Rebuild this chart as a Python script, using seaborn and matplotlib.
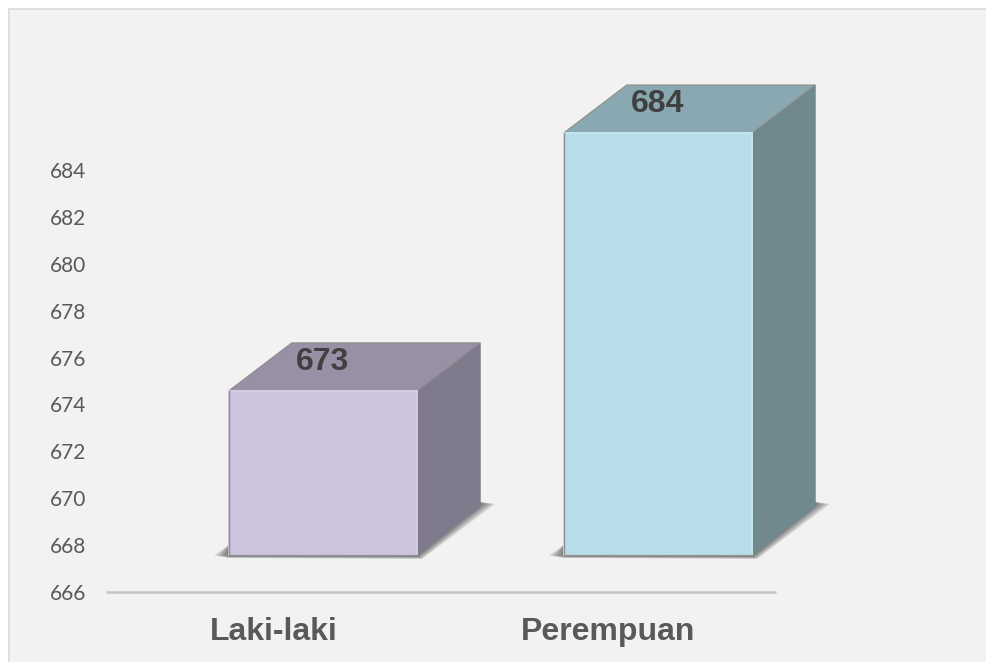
import matplotlib
matplotlib.use("Agg")
import matplotlib.pyplot as plt
import seaborn as sns
import pandas as pd
from matplotlib.patches import Polygon, Rectangle
from matplotlib.transforms import Affine2D

categories = ["Laki-laki", "Perempuan"]
values = [673, 684]
front_colors = ["#cec3dc", "#b7dee8"]
top_colors = ["#9a90a5", "#8aa8b2"]
side_colors = ["#7f7b8c", "#72888f"]
rim_colors = ["#d6cde6", "#c4e8f0"]
yticks = [666, 668, 670, 672, 674, 676, 678, 680, 682, 684]

W, H = 986, 662
px_per_unit = (592 - 170) / 18
px_per_cat = 335

sns.set_theme(style="white")
plt.rcParams["font.family"] = ["Lato", "DejaVu Sans"]

fig = plt.figure(figsize=(W / 100, H / 100), dpi=100, facecolor="white")
fig.add_artist(Rectangle((9 / W, -0.01), 1, 1 - 9 / H + 0.01, transform=fig.transFigure,
                         facecolor="#f2f2f2", edgecolor="#d9d9d9", linewidth=1.2, zorder=-1))

ax = fig.add_axes([106 / W, (H - 592) / H, 670 / W, 582 / H])
ax.patch.set_alpha(0)

df = pd.DataFrame({"kategori": categories, "jumlah": values})
sns.barplot(data=df, x="kategori", y="jumlah", hue="kategori", palette=front_colors,
            width=188.5 / px_per_cat, legend=False, ax=ax, saturation=1, zorder=5)

ax.set_xlim(-0.5, 1.5)
ax.set_ylim(666, 666 + 582 / px_per_unit)
ax.set_yticks(yticks)
ax.set_xlabel("")
ax.set_ylabel("")
ax.tick_params(axis="y", length=0, pad=14, labelsize=15, labelcolor="#595959")
ax.tick_params(axis="x", length=0, pad=18)
for lab in ax.get_xticklabels():
    lab.set_fontfamily("Liberation Sans")
    lab.set_fontweight("bold")
    lab.set_fontsize(23)
    lab.set_color("#595959")
sns.despine(ax=ax, left=True)
ax.spines["bottom"].set_color("#c4c4c4")
ax.spines["bottom"].set_linewidth(1.8)
ax.spines["bottom"].set_capstyle("butt")

# the bars float above the axis line like in a 3d chart
shift = ax.transData + Affine2D().translate(49.5, 37)
dx = 63 / px_per_cat
dy = 48 / px_per_unit
base = 666
ux = 1 / px_per_cat
uy = 1 / px_per_unit

for i, bar in enumerate(ax.patches):
    v = values[i]
    bar.set_y(base)
    bar.set_height(v - base)
    bar.set_transform(shift)
    bar.set_edgecolor(rim_colors[i])
    bar.set_linewidth(1.4)
    bar.set_clip_on(False)
    x0 = bar.get_x()
    x1 = x0 + bar.get_width()

    # soft floor shadow, stacked thin layers so the edge fades out
    for t in [1.0, 0.875, 0.75, 0.625, 0.5, 0.375, 0.25, 0.125]:
        verts = [(x0 - 15 * t * ux, base - 0.5 * uy),
                 (x0, base - (1 + 2 * t) * uy),
                 (x1 + 5 * t * ux, base - (1 + 3 * t) * uy),
                 (x1 + dx + 15 * t * ux, base + dy + 3 * uy),
                 (x1 + dx, base + dy + 5 * uy),
                 (x0, base + 10 * uy)]
        ax.add_patch(Polygon(verts, closed=True, facecolor="#3a3a3a", alpha=0.11,
                             edgecolor="none", transform=shift, zorder=2, clip_on=False))

    top = [(x0, v), (x1, v), (x1 + dx, v + dy), (x0 + dx, v + dy)]
    side = [(x1, base), (x1 + dx, base + dy), (x1 + dx, v + dy), (x1, v)]
    ax.add_patch(Polygon(side, closed=True, facecolor=side_colors[i], edgecolor=side_colors[i],
                         linewidth=0.6, transform=shift, zorder=3, clip_on=False))
    ax.add_patch(Polygon(top, closed=True, facecolor=top_colors[i], edgecolor="#8c8c8c",
                         linewidth=0.8, transform=shift, zorder=3, clip_on=False))

    # darker outline on the left and bottom of the front face
    ax.plot([x0, x0, x1], [v, base, base], color="#8f8f96", lw=1.0, transform=shift,
            zorder=6, clip_on=False, solid_joinstyle="miter")

    ax.annotate(str(v), xy=(bar.get_x() + bar.get_width() / 2, v), xycoords=shift,
                xytext=(-0.5, 29), textcoords="offset pixels", ha="center", va="center",
                family="Liberation Sans", fontweight="bold", fontsize=23, color="#404040",
                zorder=7, annotation_clip=False)

fig.savefig("out.png", dpi=100, facecolor=fig.get_facecolor())
